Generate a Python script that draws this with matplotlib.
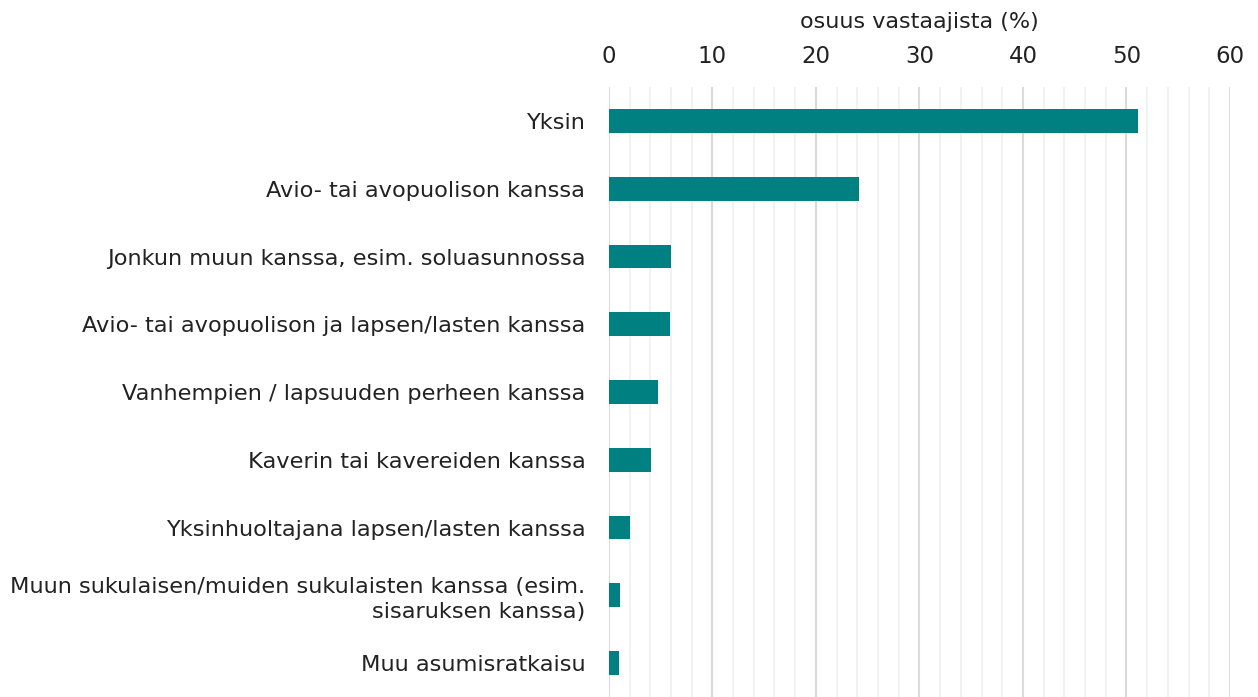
import matplotlib
matplotlib.use("Agg")
import matplotlib.pyplot as plt
from matplotlib.ticker import MultipleLocator

categories = [
    "Yksin",
    "Avio- tai avopuolison kanssa",
    "Jonkun muun kanssa, esim. soluasunnossa",
    "Avio- tai avopuolison ja lapsen/lasten kanssa",
    "Vanhempien / lapsuuden perheen kanssa",
    "Kaverin tai kavereiden kanssa",
    "Yksinhuoltajana lapsen/lasten kanssa",
    "Muun sukulaisen/muiden sukulaisten kanssa (esim.\nsisaruksen kanssa)",
    "Muu asumisratkaisu",
]
values = [51.1, 24.2, 6.0, 5.9, 4.7, 4.1, 2.0, 1.1, 1.0]

plt.rcParams['font.family'] = ['DejaVu Sans']

fig = plt.figure(figsize=(12.58, 6.97), dpi=100)
ax = fig.add_axes([0.484, 0.0, 0.4937, 0.875])

ypos = list(range(len(categories)))
ax.barh(ypos, values, height=0.35, color="#008080", zorder=3)

ax.set_xlim(0, 60)
ax.set_ylim(len(categories) - 0.5, -0.5)
ax.xaxis.set_major_locator(MultipleLocator(10))
ax.xaxis.set_minor_locator(MultipleLocator(2))
ax.xaxis.tick_top()
ax.xaxis.set_label_position("top")
ax.grid(axis="x", which="major", color="#dadada", linewidth=1.5, zorder=0)
ax.grid(axis="x", which="minor", color="#f2f2f2", linewidth=1.5, zorder=0)
ax.tick_params(axis="x", which="both", length=0, pad=14, labelsize=16.5, colors="#222222")
ax.tick_params(axis="y", length=0, pad=17, labelsize=16.2, colors="#222222")
ax.set_yticks(ypos)
ax.set_yticklabels(categories, ha="right", multialignment="right", linespacing=1.3)
ax.set_xlabel("osuus vastaajista (%)", fontsize=16, color="#222222", labelpad=12)
for s in ax.spines.values():
    s.set_visible(False)

fig.savefig("out.png", dpi=100)
